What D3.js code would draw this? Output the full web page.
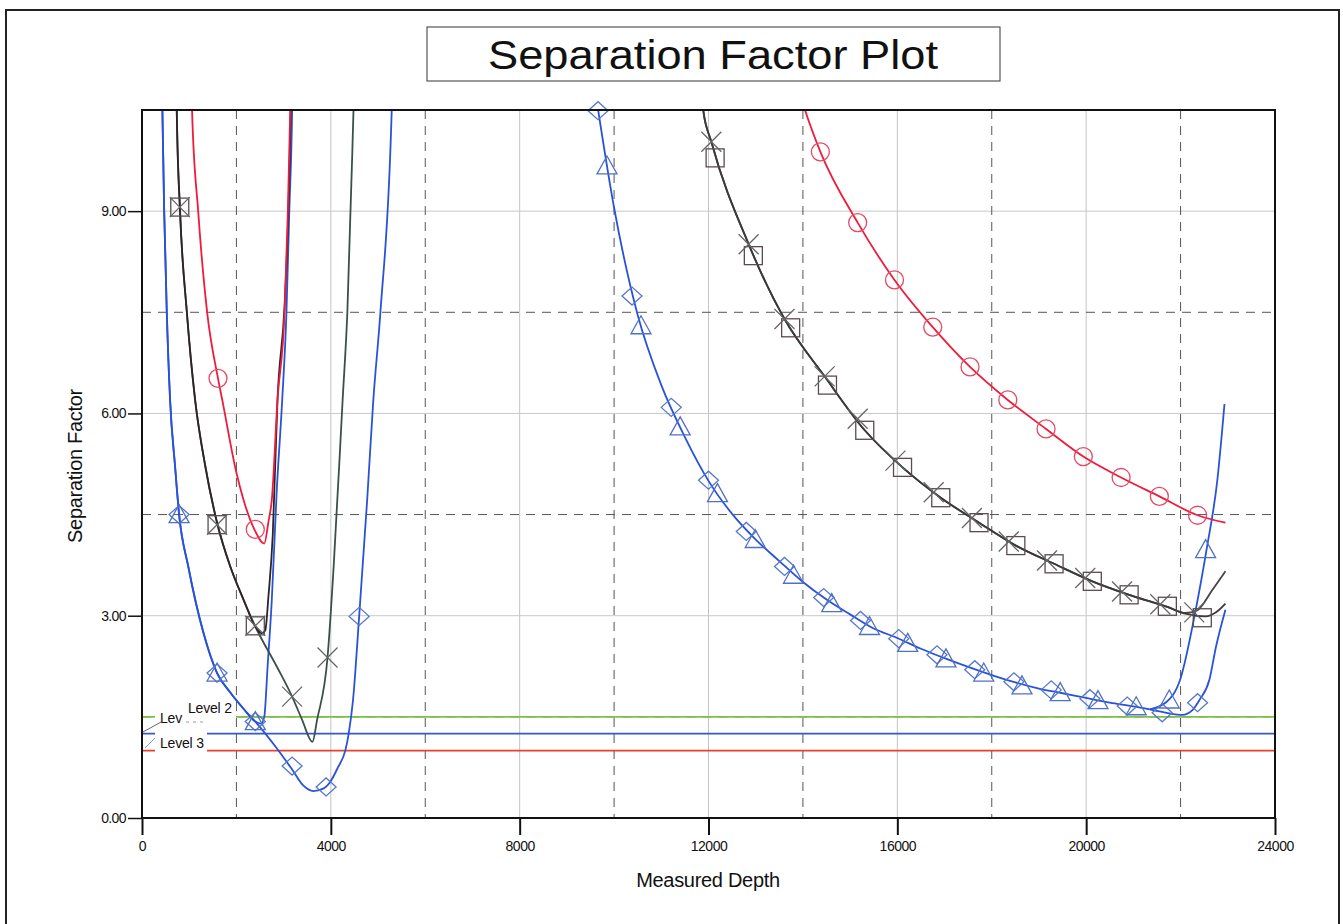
<!DOCTYPE html>
<html><head><meta charset="utf-8">
<script src="https://cdn.jsdelivr.net/npm/d3@7"></script>
<style>
html,body{margin:0;padding:0;background:#fff;}
svg{display:block;font-family:"Liberation Sans",Arial,sans-serif;}
</style></head>
<body>
<svg id="chart" width="1343" height="924"></svg>
<script>
// ---------- data ----------
const xTicks = [0, 4000, 8000, 12000, 16000, 20000, 24000];
const yTicks = [0, 3, 6, 9];
const xDashed = [2000, 6000, 10000, 14000, 18000, 22000];
const yDashed = [1.5, 4.5, 7.5];
const levelValues = [1.5, 1.25, 1.0];
const levelNames = ["Level 2", "Lev", "Level 3"];

// Offset well curves (Measured Depth, Separation Factor)
const redLeft = [[1040,11],[1060,10.5],[1190,9.0],[1380,7.5],[1610,6.52],[1700,6.2],[2000,5.12],[2150,4.72],[2380,4.28],[2590,4.07],[2680,4.4],[2750,4.72],[2870,6.2],[3020,7.5],[3090,9.0],[3140,10.5],[3160,11]];
const redRight = [[14000,10.6],[14050,10.49],[14370,9.88],[15160,8.83],[15940,7.98],[16750,7.28],[17540,6.69],[18340,6.20],[19150,5.77],[19940,5.36],[20740,5.05],[21550,4.77],[22360,4.49],[22950,4.38]];
const xCurveLeft = [[730,11],[736,10.5],[806,9.0],[950,7.5],[1125,6.2],[1340,5.22],[1590,4.38],[1870,3.73],[2150,3.24],[2400,2.84],[2860,2.24],[3180,1.80],[3390,1.46],[3610,1.13],[3710,1.46],[3930,2.38],[4060,3.73],[4250,6.2],[4350,7.5],[4480,10.5],[4500,11]];
const squareCurveLeft = [[730,11],[736,10.5],[806,9.0],[950,7.5],[1125,6.2],[1340,5.22],[1590,4.38],[1870,3.73],[2150,3.24],[2400,2.84],[2540,2.74],[2610,2.78],[2680,3.3],[2770,4.2],[2870,6.2],[3020,7.6],[3100,9.0],[3150,10.5],[3160,11]];
const xCurveRight = [[11880,10.6],[11890,10.49],[12060,10.03],[12850,8.51],[13610,7.40],[14460,6.55],[15310,5.75],[16110,5.2],[16920,4.75],[17730,4.38],[18510,4.04],[19320,3.77],[20130,3.51],[20910,3.31],[21720,3.13],[22100,3.04],[22350,3.08],[22680,3.39],[22950,3.66]];
const squareCurveRight = [[11880,10.6],[11890,10.49],[12060,10.03],[12850,8.51],[13610,7.40],[14460,6.55],[15310,5.75],[16110,5.2],[16920,4.75],[17730,4.38],[18510,4.04],[19320,3.77],[20130,3.51],[20910,3.31],[21720,3.13],[22100,3.03],[22530,2.99],[22750,3.05],[22950,3.18]];
const diamondCurveLeft = [[420,11],[432,10.5],[470,9.0],[525,7.5],[595,6.2],[700,5.22],[786,4.5],[980,3.73],[1300,2.75],[1590,2.15],[1870,1.86],[2150,1.62],[2400,1.43],[2870,1.02],[3180,0.72],[3420,0.48],[3630,0.40],[3850,0.44],[4000,0.55],[4150,0.75],[4310,1.01],[4380,1.26],[4470,1.75],[4600,2.99],[4770,4.72],[4900,6.2],[5050,7.5],[5290,10.5],[5310,11]];
const triangleCurveLeft = [[420,11],[432,10.5],[470,9.0],[525,7.5],[595,6.2],[700,5.22],[786,4.5],[980,3.73],[1300,2.75],[1590,2.15],[1870,1.86],[2150,1.62],[2400,1.43],[2520,1.40],[2590,1.5],[2660,2.24],[2750,3.24],[2850,4.8],[2970,6.2],[3060,7.5],[3120,9.0],[3180,10.5],[3190,11]];
const blueDescentRight = [[9640,10.6],[10000,9.05],[10500,7.46],[11000,6.42],[11500,5.65],[12000,5.0],[12500,4.51],[13000,4.13],[13500,3.81],[14000,3.50],[14500,3.24],[15000,3.02],[15500,2.81],[16000,2.67],[16500,2.51],[17000,2.37],[17500,2.24],[18000,2.12],[18500,2.01],[19000,1.92],[19500,1.85],[20000,1.78],[20500,1.71],[21000,1.655],[21350,1.61]];
const triangleTailRight = [[21350,1.61],[21700,1.72],[21990,2.05],[22310,3.05],[22550,3.98],[22780,5.02],[22930,6.14]];
const diamondTailRight = [[21350,1.61],[21700,1.56],[22040,1.53],[22250,1.6],[22400,1.75],[22610,2.05],[22750,2.54],[22950,3.09]];

// markers
const circleMarks = [[1610,6.52],[2400,4.28],[14370,9.88],[15160,8.83],[15940,7.98],[16750,7.28],[17540,6.69],[18340,6.20],[19150,5.77],[19940,5.36],[20740,5.05],[21550,4.77],[22360,4.49]];
const squareMarks = [[800,9.06],[1590,4.35],[2400,2.85],[12140,9.79],[12950,8.34],[13740,7.27],[14520,6.42],[15310,5.75],[16110,5.20],[16920,4.75],[17730,4.38],[18510,4.04],[19320,3.77],[20130,3.51],[20910,3.31],[21720,3.14],[22460,2.97]];
const xMarks = [[800,9.06],[1590,4.35],[2400,2.85],[3180,1.80],[3930,2.38],[12060,10.03],[12850,8.51],[13610,7.40],[14460,6.55],[15160,5.92],[15960,5.30],[16770,4.83],[17580,4.45],[18360,4.10],[19170,3.82],[19980,3.56],[20760,3.36],[21570,3.17],[22290,3.05]];
const diamondMarks = [[786,4.5],[1590,2.15],[2400,1.43],[3180,0.77],[3900,0.46],[4600,2.99],[9660,10.49],[10380,7.74],[11210,6.09],[12000,5.01],[12800,4.25],[13610,3.73],[14440,3.27],[15220,2.93],[16030,2.66],[16840,2.42],[17640,2.20],[18470,2.02],[19260,1.90],[20080,1.77],[20870,1.66],[21610,1.56],[22360,1.71]];
const triangleMarks = [[786,4.5],[1590,2.15],[2400,1.43],[9850,9.67],[10570,7.30],[11400,5.80],[12190,4.81],[12990,4.13],[13800,3.60],[14610,3.18],[15410,2.84],[16220,2.59],[17030,2.36],[17830,2.15],[18640,1.96],[19450,1.86],[20250,1.74],[21060,1.65],[21760,1.75],[22530,3.98]];

// ---------- drawing ----------
const svg = d3.select("#chart");
const W = 1343, H = 924;
const x = d3.scaleLinear().domain([0, 24000]).range([142, 1275]);
const y = d3.scaleLinear().domain([0, 10.5]).range([818, 110]);
const X0 = x(0), X1 = x(24000), Y0 = y(0), Y1 = y(10.5);

svg.append("rect").attr("width", W).attr("height", H).attr("fill", "#fff");
// page frame
svg.append("rect").attr("x", 6).attr("y", 10).attr("width", 1333).attr("height", 940)
  .attr("fill", "none").attr("stroke", "#222").attr("stroke-width", 2);

// title
svg.append("rect").attr("x", 427).attr("y", 27).attr("width", 573).attr("height", 54)
  .attr("fill", "#fff").attr("stroke", "#555").attr("stroke-width", 1.2);
svg.append("text").attr("x", 713).attr("y", 69).attr("text-anchor", "middle")
  .attr("font-size", 40).attr("fill", "#111")
  .attr("textLength", 450).attr("lengthAdjust", "spacingAndGlyphs")
  .text("Separation Factor Plot");

svg.append("defs").append("clipPath").attr("id", "plotclip")
  .append("rect").attr("x", X0).attr("y", Y1).attr("width", X1 - X0).attr("height", Y0 - Y1);

// grid: solid light
const grid = svg.append("g");
grid.selectAll("line.vs").data(xTicks.filter(d => d > 0 && d < 24000)).join("line")
  .attr("x1", d => x(d)).attr("x2", d => x(d)).attr("y1", Y1).attr("y2", Y0)
  .attr("stroke", "#c4c4c4").attr("stroke-width", 1);
grid.selectAll("line.hs").data(yTicks.filter(d => d > 0)).join("line")
  .attr("x1", X0).attr("x2", X1).attr("y1", d => y(d)).attr("y2", d => y(d))
  .attr("stroke", "#c8c8c8").attr("stroke-width", 1);
// dashed
grid.selectAll("line.vd").data(xDashed).join("line")
  .attr("x1", d => x(d)).attr("x2", d => x(d)).attr("y1", Y1).attr("y2", Y0)
  .attr("stroke", "#555").attr("stroke-width", 1).attr("stroke-dasharray", "9,7");
grid.selectAll("line.hd").data(yDashed).join("line")
  .attr("x1", X0).attr("x2", X1).attr("y1", d => y(d)).attr("y2", d => y(d))
  .attr("stroke", "#555").attr("stroke-width", 1).attr("stroke-dasharray", "9,7");

// level lines
const levelColors = ["#7cc242", "#3558d0", "#e8402e"];
svg.append("g").selectAll("line").data(levelValues).join("line")
  .attr("x1", X0).attr("x2", X1).attr("y1", d => y(d)).attr("y2", d => y(d))
  .attr("stroke", (d, i) => levelColors[i]).attr("stroke-width", 1.8);

// level labels with white backgrounds
const lab = svg.append("g").attr("font-size", 14).attr("fill", "#111");
const labelPos = [[188, 713, 186, 699, 50, 20], [160, 723, 155, 709, 31, 18], [160, 748, 155, 732, 52, 21]];
levelNames.forEach((t, i) => {
  const p = labelPos[i];
  lab.append("rect").attr("x", p[2]).attr("y", p[3]).attr("width", p[4]).attr("height", p[5]).attr("fill", "#fff");
});
levelNames.forEach((t, i) => {
  const p = labelPos[i];
  lab.append("text").attr("x", p[0]).attr("y", p[1]).attr("letter-spacing", -0.2).text(t);
});
// leader strokes
lab.append("line").attr("x1", X0 + 1).attr("y1", 732).attr("x2", 161).attr("y2", 722).attr("stroke", "#666").attr("stroke-width", 1);
lab.append("line").attr("x1", X0 + 3).attr("y1", 748).attr("x2", 155).attr("y2", 738).attr("stroke", "#8899cc").attr("stroke-width", 1);
lab.append("line").attr("x1", 186).attr("y1", 722).attr("x2", 206).attr("y2", 722).attr("stroke", "#999").attr("stroke-width", 1).attr("stroke-dasharray", "3,4");

// curves
const line = d3.line().x(d => x(d[0])).y(d => y(d[1])).curve(d3.curveMonotoneX);
const curves = svg.append("g").attr("clip-path", "url(#plotclip)").attr("fill", "none").attr("stroke-width", 1.8);
const curveDefs = [
  [triangleCurveLeft, "#2a52d8"],
  [diamondCurveLeft, "#2a52d8"],
  [blueDescentRight, "#2a52d8"],
  [triangleTailRight, "#2a52d8"],
  [diamondTailRight, "#2a52d8"],
  [xCurveLeft, "#3d5046"],
  [squareCurveLeft, "#2e2426"],
  [xCurveRight, "#454545"],
  [squareCurveRight, "#3a3a3a"],
  [redLeft, "#ee1c3c"],
  [redRight, "#ee1c3c"]
];
curveDefs.forEach(([data, col]) => {
  curves.append("path").datum(data).attr("d", line).attr("stroke", col);
});

// markers
const mk = svg.append("g").attr("fill", "none").attr("stroke-width", 1.3);
mk.selectAll("circle").data(circleMarks).join("circle")
  .attr("cx", d => x(d[0])).attr("cy", d => y(d[1])).attr("r", 9).attr("stroke", "#e44a62");
mk.selectAll("rect.sq").data(squareMarks).join("rect")
  .attr("x", d => x(d[0]) - 9).attr("y", d => y(d[1]) - 9).attr("width", 18).attr("height", 18)
  .attr("stroke", "#5a4c4e");
mk.selectAll("path.xm").data(xMarks).join("path")
  .attr("d", d => { const cx = x(d[0]), cy = y(d[1]), s = 10; return `M${cx - s},${cy - s}L${cx + s},${cy + s}M${cx - s},${cy + s}L${cx + s},${cy - s}`; })
  .attr("stroke", "#666");
mk.selectAll("path.dm").data(diamondMarks).join("path")
  .attr("d", d => { const cx = x(d[0]), cy = y(d[1]); return `M${cx - 10},${cy}L${cx},${cy - 9}L${cx + 10},${cy}L${cx},${cy + 9}Z`; })
  .attr("stroke", "#5577cc");
mk.selectAll("path.tm").data(triangleMarks).join("path")
  .attr("d", d => { const cx = x(d[0]), cy = y(d[1]); return `M${cx},${cy - 10}L${cx + 10},${cy + 8}L${cx - 10},${cy + 8}Z`; })
  .attr("stroke", "#5070c8");

// frame
svg.append("rect").attr("x", X0).attr("y", Y1).attr("width", X1 - X0).attr("height", Y0 - Y1)
  .attr("fill", "none").attr("stroke", "#111").attr("stroke-width", 2);

// axes
const ax = svg.append("g").attr("transform", `translate(0,${Y0})`)
  .call(d3.axisBottom(x).tickValues(xTicks).tickSize(17).tickPadding(6).tickFormat(d3.format("d")));
ax.select(".domain").remove();
ax.selectAll("line").attr("stroke", "#111").attr("stroke-width", 2);
ax.selectAll("text").attr("font-size", 14).attr("font-family", "Liberation Sans, Arial, sans-serif").attr("fill", "#111").attr("letter-spacing", -0.5);

const ay = svg.append("g").attr("transform", `translate(${X0},0)`)
  .call(d3.axisLeft(y).tickValues(yTicks).tickSize(14).tickPadding(2).tickFormat(d3.format(".2f")));
ay.select(".domain").remove();
ay.selectAll("line").attr("stroke", "#111").attr("stroke-width", 1.5);
ay.selectAll("text").attr("font-size", 14).attr("font-family", "Liberation Sans, Arial, sans-serif").attr("fill", "#111").attr("letter-spacing", -0.6);

svg.append("text").attr("x", 708).attr("y", 887).attr("text-anchor", "middle")
  .attr("font-size", 20).attr("fill", "#111").attr("letter-spacing", -0.3).text("Measured Depth");
svg.append("text").attr("transform", "translate(82,466) rotate(-90)").attr("text-anchor", "middle")
  .attr("font-size", 20).attr("fill", "#111").attr("letter-spacing", -0.3).text("Separation Factor");
</script>
</body></html>
